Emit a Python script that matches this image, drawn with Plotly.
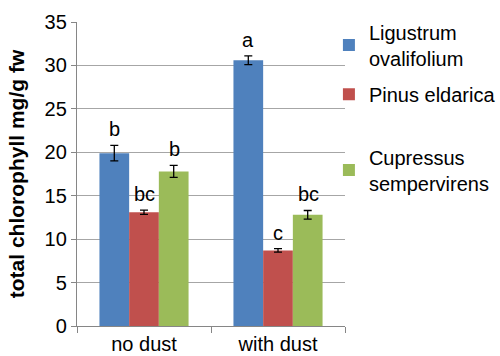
import plotly.graph_objects as go

categories = ["no dust", "with dust"]
species = ["Ligustrum<br>ovalifolium", "Pinus eldarica", "Cupressus<br>sempervirens"]
ligustrum = [19.9, 30.6]
ligustrum_err = [0.9, 0.5]
pinus = [13.1, 8.7]
pinus_err = [0.25, 0.2]
cupressus = [17.8, 12.8]
cupressus_err = [0.7, 0.5]
ligustrum_letters = ["b", "a"]
pinus_letters = ["bc", "c"]
cupressus_letters = ["b", "bc"]

colors = ["#4f81bd", "#c0504d", "#9bbb59"]
FONT = "Liberation Sans, Arial, sans-serif"

series = [
    (ligustrum, ligustrum_err, ligustrum_letters),
    (pinus, pinus_err, pinus_letters),
    (cupressus, cupressus_err, cupressus_letters),
]
legend_names = ["legend", "legend2", "legend3"]

fig = go.Figure()
for i, (vals, errs, letters) in enumerate(series):
    fig.add_trace(go.Bar(
        x=categories, y=vals, name=species[i],
        marker=dict(color=colors[i], line=dict(width=0)),
        error_y=dict(type="data", array=errs, visible=True, color="black",
                     thickness=1.3, width=4),
        legend=legend_names[i], showlegend=True,
        offsetgroup=str(i),
    ))

# significance letters
bar_px = 30
offsets = [-bar_px, 0, bar_px]
annotations = []
for i, (vals, errs, letters) in enumerate(series):
    for j, cat in enumerate(categories):
        annotations.append(dict(
            x=cat, y=vals[j] + errs[j], xref="x", yref="y",
            text=letters[j], showarrow=False, xshift=offsets[i],
            yanchor="bottom", yshift=3,
            font=dict(family=FONT, size=20, color="black"),
        ))

leg_common = dict(font=dict(family=FONT, size=20, color="black"),
                  bgcolor="rgba(0,0,0,0)", borderwidth=0,
                  xanchor="left", yanchor="middle", itemwidth=30)

fig.update_layout(
    width=500, height=356,
    margin=dict(l=77, r=155, t=22, b=30, autoexpand=False),
    paper_bgcolor="white", plot_bgcolor="white",
    font=dict(family=FONT, size=20, color="black"),
    showlegend=True,
    barmode="group", bargap=0.335, bargroupgap=0,
    annotations=annotations,
    legend=dict(x=0.94, y=0.924, **leg_common),
    legend2=dict(x=0.94, y=0.762, **leg_common),
    legend3=dict(x=0.94, y=0.513, **leg_common),
    xaxis=dict(showline=True, linecolor="#868686", linewidth=1.3,
               ticks="outside", ticklen=6, tickcolor="#868686",
               tickson="boundaries", showgrid=False, automargin=False,
               tickfont=dict(family=FONT, size=20, color="black")),
    yaxis=dict(range=[0, 35], dtick=5, showline=True, linecolor="#868686",
               linewidth=1.3, ticks="outside", ticklen=5, tickcolor="#868686",
               showgrid=True, gridcolor="#a6a6a6", gridwidth=1.3,
               zeroline=False, automargin=False,
               tickfont=dict(family=FONT, size=20, color="black"),
               title=dict(text="<b>total chlorophyll mg/g fw</b>",
                          font=dict(family=FONT, size=21, color="black"),
                          standoff=14)),
)

fig.write_html("out.html")
